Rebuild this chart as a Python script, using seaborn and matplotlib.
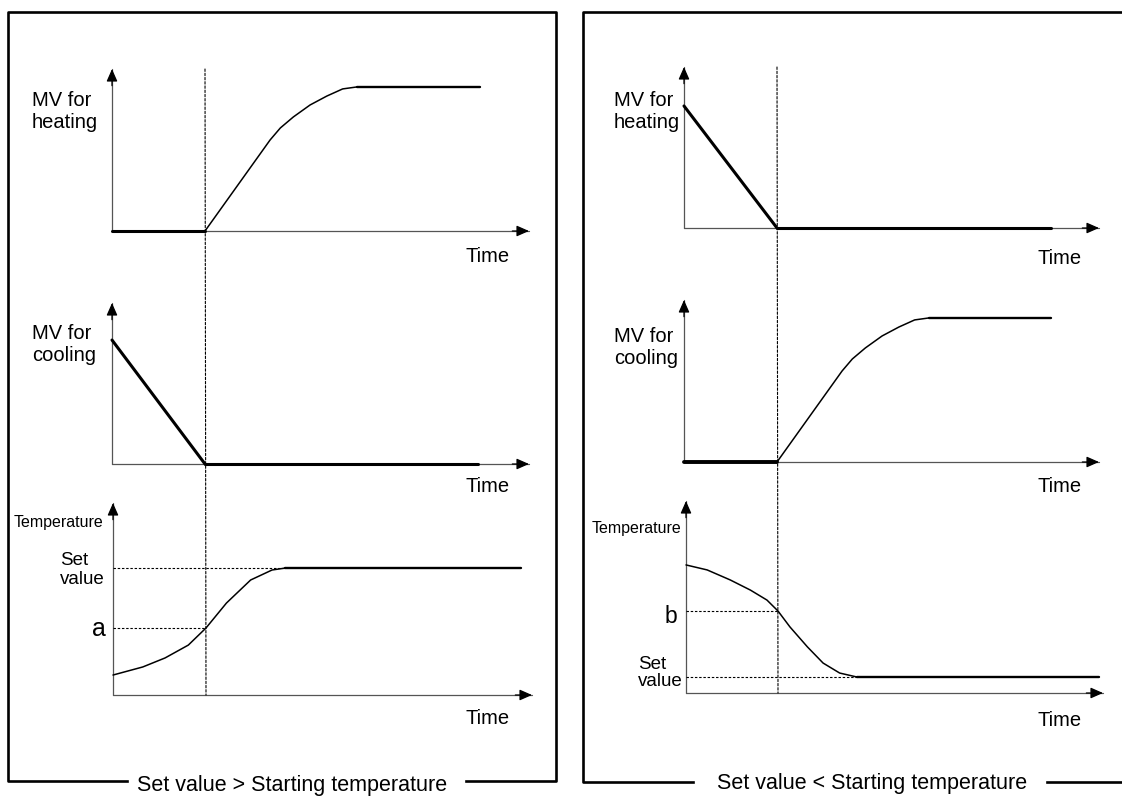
import matplotlib
matplotlib.use("Agg")
import matplotlib.pyplot as plt
import seaborn as sns
from matplotlib.patches import ConnectionPatch
from matplotlib.lines import Line2D

# ---------------- data (time in units where the switch happens at t = 1) -------------
SWITCH_T = 1.0
# left diagram: Set value > Starting temperature
LH_T = [0.0, 1.0, 1.70, 1.81, 1.95, 2.13, 2.31, 2.48, 2.63, 3.96]
LH_V = [0.0, 0.0, 0.562, 0.636, 0.704, 0.778, 0.833, 0.877, 0.889, 0.889]
LC_T = [0.0, 1.0, 3.94]
LC_V = [0.77, 0.0, 0.0]
LT_T = [0.0, 0.32, 0.56, 0.81, 1.0, 1.22, 1.48, 1.71, 1.85, 4.39]
LT_V = [0.104, 0.146, 0.193, 0.260, 0.349, 0.479, 0.599, 0.651, 0.661, 0.661]
LEFT_A = 0.349
LEFT_SET = 0.661
LEFT_SET_T = 1.85
# right diagram: Set value < Starting temperature
RH_T = [0.0, 1.0, 3.95]
RH_V = [0.758, 0.0, 0.0]
RC_T = [0.0, 1.0, 1.70, 1.81, 1.95, 2.13, 2.31, 2.48, 2.63, 3.95]
RC_V = [0.0, 0.0, 0.562, 0.636, 0.704, 0.778, 0.833, 0.877, 0.889, 0.889]
RT_T = [0.0, 0.23, 0.48, 0.70, 0.88, 1.0, 1.13, 1.32, 1.49, 1.67, 1.86, 4.49]
RT_V = [0.667, 0.641, 0.589, 0.536, 0.484, 0.427, 0.344, 0.240, 0.156, 0.104, 0.083, 0.083]
RIGHT_B = 0.427
RIGHT_SET = 0.083
RIGHT_SET_T = 1.86

TITLES = ["Set value > Starting temperature", "Set value < Starting temperature"]

# ---------------- figure -------------
sns.set_theme(style="white")
plt.rcParams["font.family"] = ["Liberation Sans", "DejaVu Sans"]

W, H = 1122, 799
fig = plt.figure(figsize=(W / 100, H / 100), dpi=100)
fig.patch.set_facecolor("white")

DOT = (0, (2.2, 1.6))


def fx(x):
    return x / W


def fy(y):
    return 1 - y / H


def make_ax(x0, x1, ytop, ybot, ppu):
    ax = fig.add_axes([fx(x0), fy(ybot), (x1 - x0) / W, (ybot - ytop) / H])
    ax.axis("off")
    ax.set_xlim(0, (x1 - x0) / ppu)
    ax.set_ylim(0, 1)
    ax.plot([0, 0], [0, 1], transform=ax.transAxes, color="#555555", lw=0.9,
            clip_on=False, zorder=1)
    ax.plot([0, 1], [0, 0], transform=ax.transAxes, color="#555555", lw=0.9,
            clip_on=False, zorder=1)
    ap = dict(arrowstyle="-|>,head_length=0.75,head_width=0.33", color="black",
              lw=0.9, shrinkA=0, shrinkB=0, mutation_scale=10)
    ax.annotate("", xy=(0, 1), xycoords="axes fraction", xytext=(0, -12),
                textcoords="offset points", arrowprops=ap)
    ax.annotate("", xy=(1, 0), xycoords="axes fraction", xytext=(-12, 0),
                textcoords="offset points", arrowprops=ap)
    return ax


def draw(ax, T, V, segs):
    for i0, i1, lw in segs:
        sns.lineplot(x=T[i0:i1 + 1], y=V[i0:i1 + 1], ax=ax, color="black",
                     linewidth=lw, sort=False, estimator=None, legend=False)
        ln = ax.lines[-1]
        ln.set_clip_on(False)
        ln.set_zorder(3)
        ln.set_solid_joinstyle("round")


def guide(ax, t, v):
    ax.plot([0, t], [v, v], color="black", lw=0.8, linestyle=DOT, clip_on=False, zorder=2)


THICK, MED, THIN = 2.2, 1.7, 1.1

# left column
axLH = make_ax(112, 529, 69, 231, 93)
axLC = make_ax(112, 529, 303, 464, 93)
axLT = make_ax(113, 532, 503, 695, 93)
draw(axLH, LH_T, LH_V, [(0, 1, THICK), (1, 8, THIN), (8, 9, MED)])
draw(axLC, LC_T, LC_V, [(0, 1, THICK), (1, 2, THICK)])
guide(axLT, LEFT_SET_T, LEFT_SET)
guide(axLT, SWITCH_T, LEFT_A)
draw(axLT, LT_T, LT_V, [(0, 8, THIN), (8, 9, MED)])

# right column
axRH = make_ax(684, 1099, 67, 228, 93)
axRC = make_ax(684, 1099, 300, 462, 93)
axRT = make_ax(686, 1103, 501, 693, 92)
draw(axRH, RH_T, RH_V, [(0, 1, THICK), (1, 2, THICK)])
draw(axRC, RC_T, RC_V, [(0, 1, THICK + 0.6), (1, 8, THIN), (8, 9, MED)])
guide(axRT, RIGHT_SET_T, RIGHT_SET)
guide(axRT, SWITCH_T, RIGHT_B)
draw(axRT, RT_T, RT_V, [(0, 10, THIN), (10, 11, MED)])

# vertical dotted switch lines spanning the three charts
for top, bot in [(axLH, axLT), (axRH, axRT)]:
    cp = ConnectionPatch(xyA=(SWITCH_T, 1), coordsA=top.transData,
                         xyB=(SWITCH_T, 0), coordsB=bot.transData,
                         color="black", lw=0.8, linestyle=DOT)
    fig.add_artist(cp)

# ---------------- labels -------------
LBL = 14.5


def t(x, y, s, size=LBL, ha="left", va="center", ls=1.2):
    fig.text(fx(x), fy(y), s, fontsize=size, ha=ha, va=va, linespacing=ls, color="black")


# left
t(32, 111, "MV for\nheating")
t(466, 257, "Time")
t(32, 345, "MV for\ncooling")
t(466, 486, "Time")
t(14, 523, "Temperature", size=11.5)
t(60, 570, "Set\nvalue", size=13.5, ls=1.2)
t(106, 636, "a", size=18, ha="right", va="baseline")
t(466, 718, "Time")
# right
t(614, 112, "MV for\nheating")
t(1038, 258, "Time")
t(614, 347, "MV for\ncooling")
t(1038, 486, "Time")
t(592, 528, "Temperature", size=11.5)
t(677, 623, "b", size=16.5, ha="right", va="baseline")
t(638, 673, "Set\nvalue", size=13.5, ls=1.05)
t(1038, 720, "Time")

# titles on the frame
t(292, 785, TITLES[0], size=15.5, ha="center")
t(872, 783, TITLES[1], size=15.5, ha="center")

# ---------------- frames -------------
FRAME_LW = 1.9


def seg(xs, ys):
    fig.add_artist(Line2D([fx(v) for v in xs], [fy(v) for v in ys],
                          transform=fig.transFigure, color="black", lw=FRAME_LW,
                          solid_capstyle="projecting"))


# left frame
seg([127, 8, 8, 556, 556, 466], [781, 781, 12, 12, 781, 781])
# right frame
seg([693, 583, 583, 1124], [782, 782, 12, 12])
seg([1047, 1124], [782, 782])

fig.savefig("out.png", dpi=100, facecolor="white")
